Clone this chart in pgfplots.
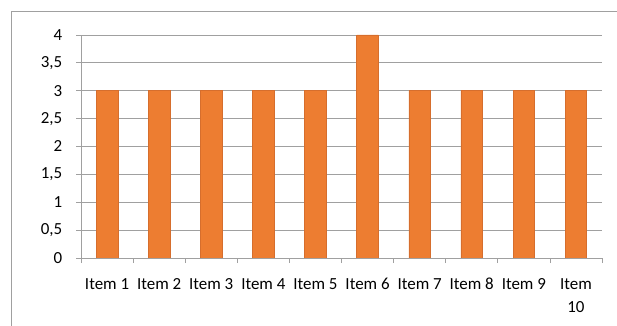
\documentclass[border=0pt]{standalone}
\usepackage{pgfplots}
\pgfplotsset{compat=1.18}
\usepackage{fontspec}
\setmainfont{Carlito}
\definecolor{gridgray}{RGB}{160,160,160}
\definecolor{barorange}{RGB}{237,125,49}
\definecolor{baredge}{RGB}{214,110,45}
\newcommand{\st}{\rule{0pt}{12bp}}
\begin{document}
\begin{tikzpicture}
\path[use as bounding box] (0,0) rectangle (617bp,326bp);
\draw[gridgray, line width=0.75bp] (11bp,0) -- (11bp,315bp) -- (617bp,315bp);
\begin{axis}[
  at={(81bp,68bp)}, anchor=south west,
  scale only axis, width=521bp, height=223bp,
  xmin=0.5, xmax=10.5, ymin=0, ymax=4,
  axis lines*=left,
  axis line style={draw=gridgray, line width=0.75bp},
  ytick={0,0.5,1,1.5,2,2.5,3,3.5,4},
  xtick={1,2,3,4,5,6,7,8,9,10},
  xticklabels={\st Item 1,\st Item 2,\st Item 3,\st Item 4,\st Item 5,\st Item 6,\st Item 7,\st Item 8,\st Item 9,{\st Item\\10}},
  minor xtick={0.5,1.5,2.5,3.5,4.5,5.5,6.5,7.5,8.5,9.5,10.5},
  tick align=outside,
  major tick length=5bp,
  minor tick length=5bp,
  major x tick style={draw=none},
  tick style={draw=gridgray, line width=0.75bp},
  ymajorgrids,
  grid style={draw=gridgray, line width=0.75bp},
  /pgf/number format/use comma,
  /pgf/number format/assume math mode=true,
  tick label style={font=\fontsize{17}{23.5}\selectfont, text=black},
  yticklabel style={xshift=-10.3bp},
  xticklabel style={align=center, anchor=north, yshift=-11bp},
  ybar, bar width=21.6bp,
]
\addplot[fill=barorange, draw=baredge, line width=0.6bp] coordinates {
(1,3) (2,3) (3,3) (4,3) (5,3) (6,4) (7,3) (8,3) (9,3) (10,3)
};
\end{axis}
\end{tikzpicture}
\end{document}
